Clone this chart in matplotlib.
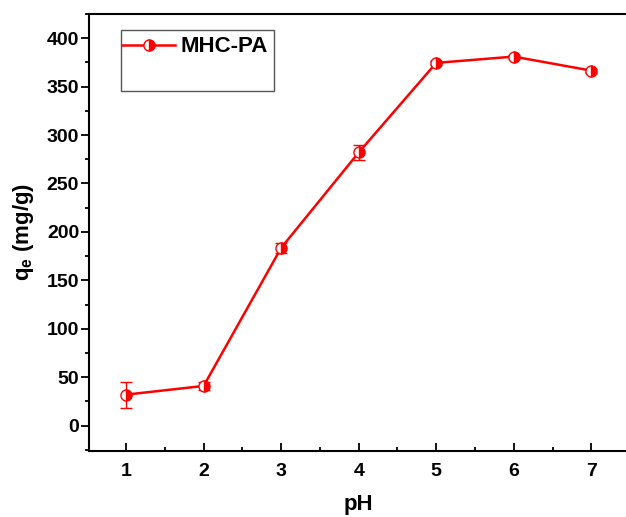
import matplotlib
matplotlib.use("Agg")
import matplotlib.pyplot as plt
from matplotlib.ticker import MultipleLocator
from matplotlib.patches import Rectangle
from matplotlib.lines import Line2D

plt.rcParams['font.family'] = ['Liberation Sans', 'DejaVu Sans']
plt.rcParams['font.weight'] = 'bold'
plt.rcParams['mathtext.fontset'] = 'custom'
plt.rcParams['mathtext.rm'] = 'Liberation Sans:bold'
plt.rcParams['mathtext.bf'] = 'Liberation Sans:bold'
plt.rcParams['mathtext.it'] = 'Liberation Sans:bold'
plt.rcParams['mathtext.default'] = 'bf'

ph = [1, 2, 3, 4, 5, 6, 7]
qe = [32, 41, 183.5, 282, 374.5, 381, 366.5]
err = [13.5, 4, 5, 8, 2, 2, 2]
label = "MHC-PA"

fig = plt.figure(figsize=(6.26, 5.17), dpi=100)
ax = fig.add_axes([0.142, 0.128, 0.862, 0.845])

mstyle = dict(color='red', lw=1.8, marker='o', markersize=8,
              fillstyle='right', markerfacecolor='red', markerfacecoloralt='white',
              markeredgecolor='red', markeredgewidth=1.0)
ax.errorbar(ph, qe, yerr=err, ecolor='red', elinewidth=1.0, capsize=4,
            capthick=1.0, **mstyle)

ax.set_xlim(0.52, 7.48)
ax.set_ylim(-26, 425)
ax.xaxis.set_major_locator(MultipleLocator(1))
ax.xaxis.set_minor_locator(MultipleLocator(0.5))
ax.yaxis.set_major_locator(MultipleLocator(50))
ax.yaxis.set_minor_locator(MultipleLocator(25))

ax.tick_params(axis='x', which='both', direction='in', top=False)
ax.tick_params(axis='y', which='both', direction='out', right=False)
ax.tick_params(which='major', length=6, width=1.3, labelsize=14)
ax.tick_params(axis='x', which='major', pad=9)
ax.tick_params(axis='y', which='major', pad=1)
ax.tick_params(which='minor', length=3, width=1.3)
for lab in ax.get_xticklabels() + ax.get_yticklabels():
    lab.set_fontweight('bold')
for s in ax.spines.values():
    s.set_linewidth(1.5)
ax.spines['right'].set_visible(False)

ax.set_xlabel("pH", fontsize=16, fontweight='bold', labelpad=10)
ax.set_ylabel(r"q$_{e}$ (mg/g)", fontsize=16, fontweight='bold', labelpad=8)

# legend
handle = Line2D([], [], **mstyle)
leg = ax.legend([handle], [label], loc='center left', bbox_to_anchor=(0.0613, 0.9245),
                fontsize=16, frameon=False, handlelength=2.4, borderpad=0,
                borderaxespad=0, handletextpad=0.25)
for t in leg.get_texts():
    t.set_fontweight('bold')
ax.add_patch(Rectangle((0.0595, 0.8238), 0.2835, 0.1396, transform=ax.transAxes,
                       fill=False, edgecolor='#555555', lw=1.0, clip_on=False))

fig.savefig("out.png", dpi=100)
